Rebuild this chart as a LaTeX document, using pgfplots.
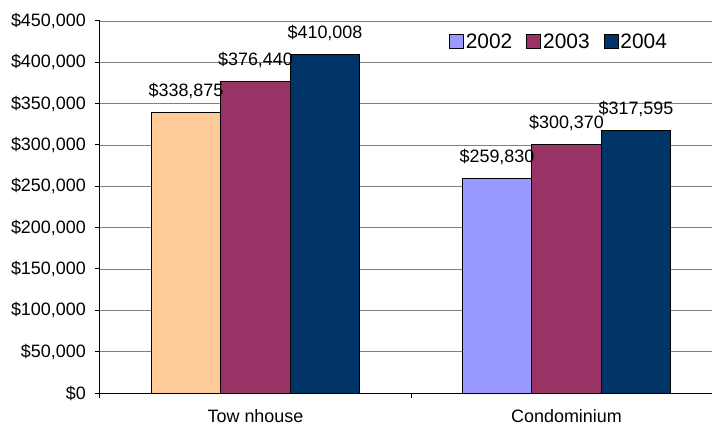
\documentclass[border=0pt]{standalone}
\usepackage{fontspec}
\setmainfont{Liberation Sans}
\usepackage{pgfplots}
\pgfplotsset{compat=1.18}
\definecolor{cTown}{HTML}{FFCC99}
\definecolor{cA}{HTML}{9999FF}
\definecolor{cB}{HTML}{993366}
\definecolor{cC}{HTML}{003366}
\definecolor{gridgray}{HTML}{808080}
\begin{document}
\begin{tikzpicture}
\begin{axis}[
  name=ax,
  /pgf/number format/fixed,
  /pgf/number format/precision=0,
  /pgf/number format/1000 sep={,},
  /pgf/number format/assume math mode=true,
  scale only axis, width=612bp, height=372bp,
  xmin=-0.5, xmax=1.4678, ymin=0, ymax=450000,
  axis x line=bottom, axis y line=left,
  axis line style={-, black, line width=1bp},
  ytick={0,50000,100000,150000,200000,250000,300000,350000,400000,450000},
  scaled y ticks=false,
  yticklabel={\$\pgfmathprintnumber{\tick}},
  yticklabel style={font=\fontsize{18}{20}\selectfont, inner sep=0pt, xshift=-9bp},
  ymajorgrids, grid style={gridgray, line width=0.8bp},
  tick align=outside, major tick length=5bp,
  tick style={black, line width=1bp},
  xtick={-0.5,0.5,1.5}, xticklabels={},
  extra x ticks={0,1}, extra x tick labels={Tow nhouse,Condominium},
  extra x tick style={major tick length=0pt, grid=none,
    xticklabel style={font=\fontsize{18}{20}\selectfont, anchor=base, inner sep=0pt, yshift=-29bp}},
  ybar, bar width=69.5bp,
  every axis plot/.append style={draw=black, line width=1bp,
    legend image code/.code={\draw[##1, draw=black, line width=0.8bp] (0bp,-7bp) rectangle (14bp,7bp);}},
  nodes near coords={\$\pgfmathprintnumber{\pgfplotspointmeta}},
  every node near coord/.append style={font=\fontsize{18}{20}\selectfont, anchor=base, inner sep=0pt, yshift=16bp, black},
  legend columns=3,
  legend style={at={(0.75,0.945)}, anchor=center, draw=none, fill=white,
    font=\fontsize{21}{24}\selectfont, inner xsep=8bp, inner ysep=5bp,
    nodes={inner sep=2bp},
    /tikz/every even column/.style={column sep=12bp}},
]
\addplot[fill=cTown, bar shift=-69.5bp, forget plot] coordinates {(0,338875)};
\addplot[fill=cA, bar shift=-69.5bp] coordinates {(1,259830)};
\addplot[fill=cB, bar shift=0bp] coordinates {(0,376440) (1,300370)};
\addplot[fill=cC, bar shift=69.5bp] coordinates {(0,410008) (1,317595)};
\legend{2002,2003,2004}
\end{axis}
\pgfresetboundingbox
\path[use as bounding box] ([xshift=-100bp,yshift=-33bp]ax.south west) rectangle ([yshift=21bp]ax.north east);
\end{tikzpicture}
\end{document}
